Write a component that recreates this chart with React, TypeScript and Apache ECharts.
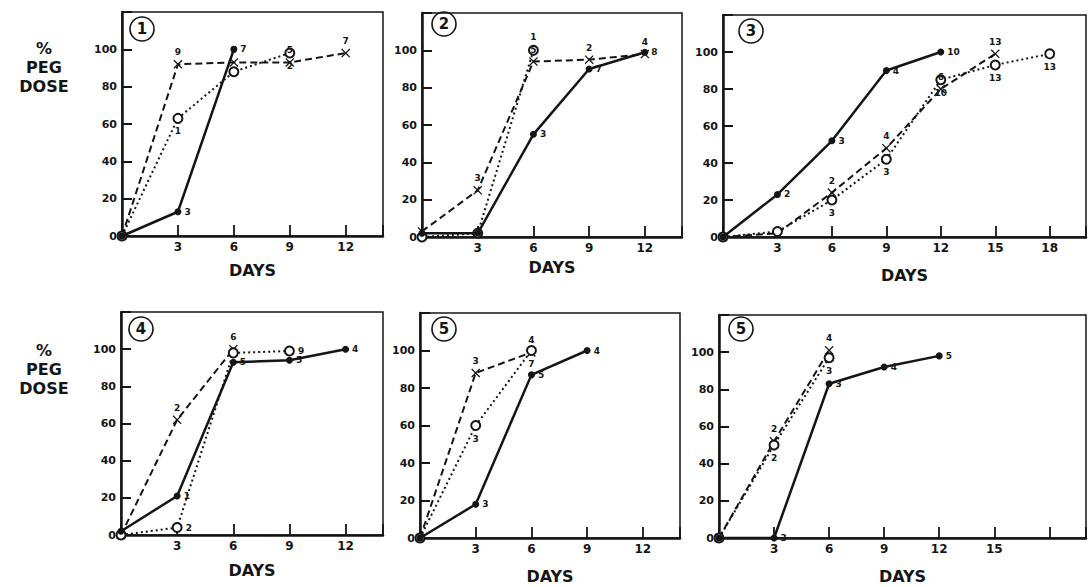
import React, { useEffect, useRef } from "react";
import * as echarts from "echarts";

// ---- data ----
const panelNumbers = ["1", "2", "3", "4", "5", "5"];
const dayMax = [14, 14, 20, 14, 14, 20];
const yTickLabels = [0, 20, 40, 60, 80, 100];
const p1Days = [3, 6, 9, 12];
const p2Days = [3, 6, 9, 12];
const p3Days = [3, 6, 9, 12, 15, 18];
const p4Days = [3, 6, 9, 12];
const p5Days = [3, 6, 9, 12];
const p6Days = [3, 6, 9, 12, 15];

const p1Solid = [[0, 0], [3, 13], [6, 100]];
const p1SolidN = ["", "3", "7"];
const p1Dashed = [[0, 0], [3, 92], [6, 93], [9, 93], [12, 98]];
const p1DashedN = ["", "9", "5", "5", "7"];
const p1Dotted = [[0, 0], [3, 63], [6, 88], [9, 98]];
const p1DottedN = ["", "1", "", "2"];

const p2Solid = [[0, 2], [3, 2], [6, 55], [9, 90], [12, 99]];
const p2SolidN = ["", "", "3", "7", "8"];
const p2Dashed = [[0, 3], [3, 25], [6, 94], [9, 95], [12, 98]];
const p2DashedN = ["", "3", "5", "2", "4"];
const p2Dotted = [[0, 0], [3, 2], [6, 100]];
const p2DottedN = ["", "", "1"];

const p3Solid = [[0, 0], [3, 23], [6, 52], [9, 90], [12, 100]];
const p3SolidN = ["", "2", "3", "4", "10"];
const p3Dashed = [[0, 0], [3, 2], [6, 24], [9, 48], [12, 80], [15, 99]];
const p3DashedN = ["", "", "2", "4", "6", "13"];
const p3Dotted = [[0, 0], [3, 3], [6, 20], [9, 42], [12, 85], [15, 93], [18, 99]];
const p3DottedN = ["", "", "3", "3", "10", "13", "13"];

const p4Solid = [[0, 2], [3, 21], [6, 93], [9, 94], [12, 100]];
const p4SolidN = ["", "1", "5", "5", "4"];
const p4Dashed = [[0, 0], [3, 62], [6, 100]];
const p4DashedN = ["", "2", "6"];
const p4Dotted = [[0, 0], [3, 4], [6, 98], [9, 99]];
const p4DottedN = ["", "2", "", "9"];

const p5Solid = [[0, 0], [3, 18], [6, 87], [9, 100]];
const p5SolidN = ["", "3", "5", "4"];
const p5Dashed = [[0, 0], [3, 88], [6, 99]];
const p5DashedN = ["", "3", "4"];
const p5Dotted = [[0, 0], [3, 60], [6, 100]];
const p5DottedN = ["", "3", "7"];

const p6Solid = [[0, 0], [3, 0], [6, 83], [9, 92], [12, 98]];
const p6SolidN = ["", "3", "3", "4", "5"];
const p6Dashed = [[0, 0], [3, 52], [6, 101]];
const p6DashedN = ["", "2", "4"];
const p6Dotted = [[0, 0], [3, 50], [6, 97]];
const p6DottedN = ["", "2", "3"];

const panels = [
  { days: p1Days, solid: p1Solid, solidN: p1SolidN, dashed: p1Dashed, dashedN: p1DashedN, dotted: p1Dotted, dottedN: p1DottedN },
  { days: p2Days, solid: p2Solid, solidN: p2SolidN, dashed: p2Dashed, dashedN: p2DashedN, dotted: p2Dotted, dottedN: p2DottedN },
  { days: p3Days, solid: p3Solid, solidN: p3SolidN, dashed: p3Dashed, dashedN: p3DashedN, dotted: p3Dotted, dottedN: p3DottedN },
  { days: p4Days, solid: p4Solid, solidN: p4SolidN, dashed: p4Dashed, dashedN: p4DashedN, dotted: p4Dotted, dottedN: p4DottedN },
  { days: p5Days, solid: p5Solid, solidN: p5SolidN, dashed: p5Dashed, dashedN: p5DashedN, dotted: p5Dotted, dottedN: p5DottedN },
  { days: p6Days, solid: p6Solid, solidN: p6SolidN, dashed: p6Dashed, dashedN: p6DashedN, dotted: p6Dotted, dottedN: p6DottedN },
];

// ---- layout ----
const grids = [
  { left: 122, top: 12, width: 261, height: 224 },
  { left: 422, top: 13, width: 260, height: 224 },
  { left: 723, top: 15, width: 370, height: 222 },
  { left: 121, top: 312, width: 262, height: 223 },
  { left: 420, top: 313, width: 260, height: 225 },
  { left: 719, top: 315, width: 372, height: 223 },
];
const nameGaps = [26, 22, 30, 27, 30, 30];
const dottedLabelPos = ["bottom", "top", "bottom", "right", "bottom", "bottom"];
const circlePos = [
  [130, 17], [432, 12], [739, 19], [129, 317], [432, 317], [729, 317],
];

const INK = "#151515";
const FONT = "DejaVu Sans";
const CROSS = "path://M1,0 L5,4 L9,0 L10,1 L6,5 L10,9 L9,10 L5,6 L1,10 L0,9 L4,5 L0,1 Z";

export default function App() {
  const ref = useRef<HTMLDivElement>(null);
  useEffect(() => {
    if (!ref.current) return;
    const chart = echarts.init(ref.current, undefined, { renderer: "svg" });
    const series: any[] = [];
    panels.forEach((p, i) => {
      const lbl = (arr: string[], position: string) => ({
        show: true,
        position,
        distance: 3,
        fontSize: 9,
        fontWeight: "bold",
        fontFamily: FONT,
        color: INK,
        formatter: (q: any) => arr[q.dataIndex] || "",
      });
      series.push({
        type: "line",
        xAxisIndex: i,
        yAxisIndex: i,
        data: p.solid,
        symbol: "circle",
        symbolSize: 7,
        itemStyle: { color: INK },
        lineStyle: { color: INK, width: 2.5, type: "solid" },
        label: lbl(p.solidN, "right"),
        z: 3,
      });
      series.push({
        type: "line",
        xAxisIndex: i,
        yAxisIndex: i,
        data: p.dashed,
        symbol: CROSS,
        symbolSize: 9,
        itemStyle: { color: INK },
        lineStyle: { color: INK, width: 2, type: [7, 4] },
        label: lbl(p.dashedN, "top"),
        z: 2,
      });
      series.push({
        type: "line",
        xAxisIndex: i,
        yAxisIndex: i,
        data: p.dotted,
        symbol: "emptyCircle",
        symbolSize: 9,
        itemStyle: { color: INK, borderWidth: 1.5 },
        lineStyle: { color: INK, width: 2, type: [2, 3] },
        label: lbl(p.dottedN, dottedLabelPos[i]),
        z: 2,
      });
    });

    const option: any = {
      animation: false,
      backgroundColor: "#ffffff",
      title: panelNumbers.map((n, i) => ({
        text: `{c|${n}}`,
        left: circlePos[i][0],
        top: circlePos[i][1],
        padding: 0,
        textStyle: {
          rich: {
            c: {
              width: 24,
              height: 24,
              lineHeight: 24,
              align: "center",
              borderRadius: 13,
              borderWidth: 1.6,
              borderColor: INK,
              fontSize: 15,
              fontWeight: "bold",
              fontFamily: FONT,
              color: INK,
            },
          },
        },
      })),
      grid: grids.map((g) => ({
        ...g,
        show: true,
        borderColor: INK,
        borderWidth: 1.5,
        backgroundColor: "transparent",
        containLabel: false,
      })),
      xAxis: panels.map((p, i) => ({
        type: "value",
        gridIndex: i,
        min: 0,
        max: dayMax[i],
        interval: 3,
        name: "DAYS",
        nameLocation: "middle",
        nameGap: nameGaps[i],
        nameTextStyle: { fontSize: 16, fontWeight: "bold", fontFamily: FONT, color: INK },
        axisLine: { show: true, onZero: false, lineStyle: { color: INK, width: 2.5 } },
        axisTick: { show: true, inside: true, length: 11, lineStyle: { color: INK, width: 1.8 } },
        axisLabel: {
          margin: 5,
          fontSize: 12,
          fontWeight: "bold",
          fontFamily: FONT,
          color: INK,
          formatter: (v: number) => (p.days.includes(v) ? String(v) : ""),
        },
        splitLine: { show: false },
      })),
      yAxis: panels.map((_, i) => ({
        type: "value",
        gridIndex: i,
        min: 0,
        max: 120,
        interval: 20,
        axisLine: { show: true, onZero: false, lineStyle: { color: INK, width: 2.5 } },
        axisTick: { show: true, inside: true, length: 10, lineStyle: { color: INK, width: 2 } },
        axisLabel: {
          margin: 5,
          fontSize: 11,
          fontWeight: "bold",
          fontFamily: FONT,
          color: INK,
          formatter: (v: number) => (yTickLabels.includes(v) ? String(v) : ""),
        },
        splitLine: { show: false },
      })),
      graphic: [
        {
          type: "text",
          x: 44,
          y: 39,
          style: {
            text: "%\nPEG\nDOSE",
            align: "center",
            textAlign: "center",
            font: `bold 16px '${FONT}'`,
            lineHeight: 19,
            fill: INK,
          },
        },
        {
          type: "text",
          x: 44,
          y: 341,
          style: {
            text: "%\nPEG\nDOSE",
            align: "center",
            textAlign: "center",
            font: `bold 16px '${FONT}'`,
            lineHeight: 19,
            fill: INK,
          },
        },
      ],
      series,
    };
    chart.setOption(option);
    return () => chart.dispose();
  }, []);

  return (
    <div style={{ position: "fixed", left: 0, top: 0, width: 1089, height: 587, overflow: "hidden", background: "#fff" }}>
      <div ref={ref} style={{ width: 1089, height: 587 }} />
    </div>
  );
}
